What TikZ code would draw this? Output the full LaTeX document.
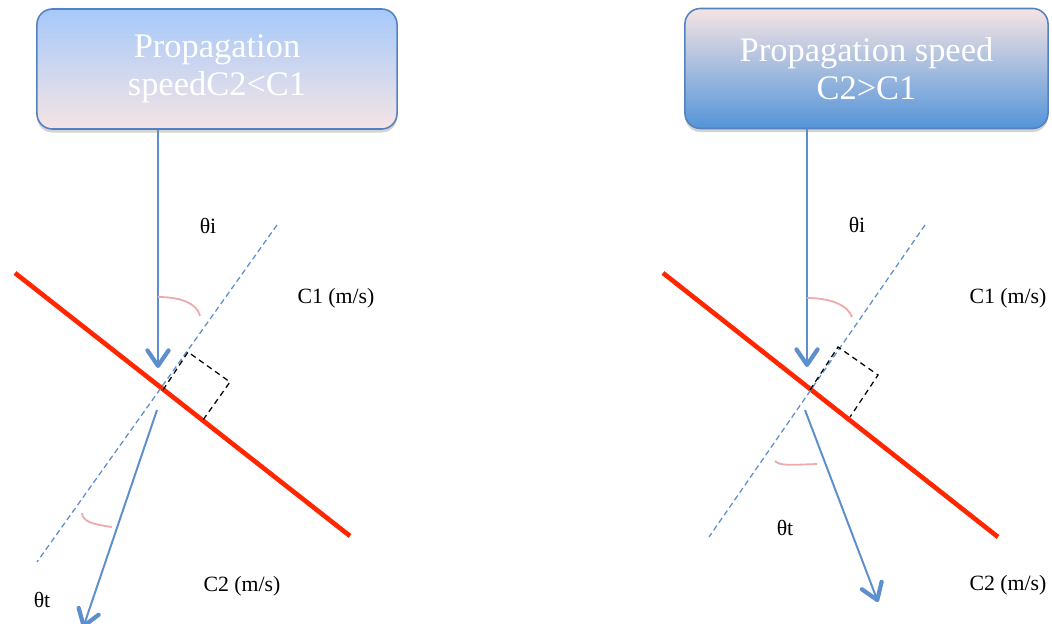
\documentclass[tikz,border=0pt]{standalone}
\usepackage{fontspec}
\setmainfont{Liberation Serif}
\usepackage{tikz}
\usetikzlibrary{arrows.meta, shadows, calc}
\definecolor{boxblue}{RGB}{84, 130, 190}
\definecolor{rayblue}{RGB}{92, 143, 204}
\definecolor{skyblue}{RGB}{166, 201, 250}
\definecolor{paleblush}{RGB}{245, 228, 228}
\definecolor{deepblue}{RGB}{84, 148, 216}
\definecolor{interfacered}{RGB}{255, 38, 0}
\definecolor{anglepink}{RGB}{234, 172, 172}
\tikzset{
  speedbox/.style={rectangle, rounded corners=11pt, draw=boxblue, line width=1.1pt,
              minimum width=#1, minimum height=3cm, text=white, align=center,
              font=\fontsize{24.5}{27}\selectfont,
              drop shadow={opacity=0.35, shadow xshift=0pt, shadow yshift=-2.5pt}},
  speedbox/.default=9cm,
  ray/.style={line width=1.4pt, color=rayblue,
              -{Straight Barb[length=11pt, width=15pt, line width=3pt, round]}},
  interface/.style={line width=3.3pt, color=interfacered},
  normal/.style={line width=0.9pt, color=rayblue, dash pattern=on 4pt off 2.5pt},
  rightangle/.style={line width=0.9pt, color=black, dash pattern=on 4pt off 3pt},
  anglemark/.style={line width=1.3pt, color=anglepink},
  label/.style={font=\fontsize{15.5}{18}\selectfont, text=black},
}
\begin{document}
\begin{tikzpicture}[x=0.025cm, y=-0.025cm]
  \useasboundingbox (0,0) rectangle (1052,624);

  \node[speedbox, top color=skyblue, bottom color=paleblush] (slowbox) at (217,69)
        {Propagation\\speedC2<C1};
  \node[speedbox=9.075cm, top color=paleblush, middle color=paleblush, bottom color=deepblue] (fastbox) at (866.5,68.5)
        {Propagation speed\\C2>C1};

  \coordinate (slowtip) at (158,368);
  \coordinate (slowredA) at (15,273);
  \coordinate (slowredB) at (350,536);
  \coordinate (slownA) at (277,225);
  \coordinate (slownB) at (37,562);
  \coordinate (slowtA) at (157,410);
  \coordinate (slowtB) at (83,628);

  \coordinate (fasttip) at (807,367);
  \coordinate (fastredA) at (663,273);
  \coordinate (fastredB) at (998,537);
  \coordinate (fastnA) at (925,225);
  \coordinate (fastnB) at (709,537);
  \coordinate (fasttA) at (805,410);
  \coordinate (fasttB) at (878,602);

  \draw[interface] (slowredA) -- (slowredB);
  \draw[normal] (slownA) -- (slownB);
  \draw[rightangle] (163,390) -- (188,352) -- (230,382) -- (203,420);
  \draw[ray] (slowbox.south -| slowtip) -- (slowtip);
  \draw[ray] (slowtA) -- (slowtB);
  \draw[anglemark] (158,297) .. controls (180,297) and (197,303) .. (200,316);
  \draw[anglemark] (82,513) .. controls (83,521) and (90,524) .. (112,527);

  \draw[interface] (fastredA) -- (fastredB);
  \draw[normal] (fastnA) -- (fastnB);
  \draw[rightangle] (810,390) -- (838,347) -- (878,375) -- (850,417);
  \draw[ray] (fastbox.south -| fasttip) -- (fasttip);
  \draw[ray] (fasttA) -- (fasttB);
  \draw[anglemark] (807,298) .. controls (830,298) and (848,305) .. (852,317);
  \draw[anglemark] (775,461) .. controls (780,466) and (790,465) .. (817,464);

  \node[label] (slowti) at (208,226) {θi};
  \node[label] (slowc1) at (336,298) {C1 (m/s)};
  \node[label] (slowc2) at (242,586) {C2 (m/s)};
  \node[label] (slowtt) at (42,600) {θt};

  \node[label] (fastti) at (857,225) {θi};
  \node[label] (fastc1) at (1008,298) {C1 (m/s)};
  \node[label] (fastc2) at (1008,585) {C2 (m/s)};
  \node[label] (fasttt) at (785,528) {θt};
\end{tikzpicture}
\end{document}
